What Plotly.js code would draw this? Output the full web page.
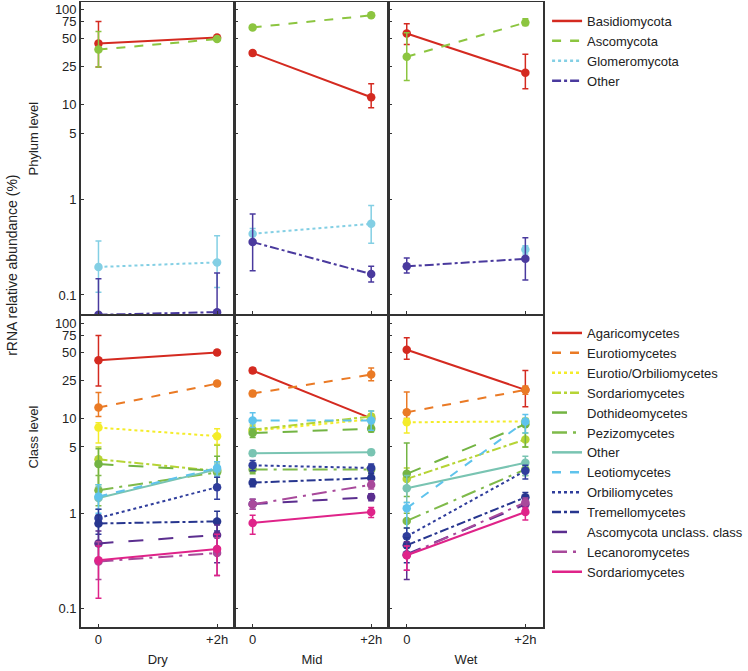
<!DOCTYPE html>
<html>
<head>
<meta charset="utf-8">
<script src="https://cdn.plot.ly/plotly-3.0.1.min.js"></script>
<style>
  html, body { margin: 0; padding: 0; background: #fff; }
  #chart { width: 748px; height: 671px; }
</style>
</head>
<body>
<div id="chart"></div>
<script>
// values per row: [Dry 0, Dry +2h, Mid 0, Mid +2h, Wet 0, Wet +2h]
const sites = ["Dry", "Mid", "Wet"];
const times = ["0", "+2h"];

const phyla = ["Basidiomycota", "Ascomycota", "Glomeromycota", "Other"];
const phylumMean = [
  [44, 51, 35, 12, 56, 21.7],
  [38, 49, 65, 87, 32, 73],
  [0.197, 0.22, 0.44, 0.56, null, 0.30],
  [0.062, 0.066, 0.36, 0.166, 0.2, 0.24],
];
const phylumHi = [
  [75, 53, 37, 16.6, 71, 34],
  [59, 51, 68, 92, 57, 80],
  [0.37, 0.42, 0.5, 0.87, null, 0.33],
  [0.148, 0.17, 0.71, 0.2, 0.245, 0.4],
];
const phylumLo = [
  [25, 49, 33, 9.3, 43, 14.7],
  [25, 47, 62, 83, 18, 68],
  [0.107, 0.12, 0.38, 0.35, null, 0.27],
  [0.03, 0.03, 0.18, 0.137, 0.17, 0.144],
];

const classes = [
  "Agaricomycetes", "Eurotiomycetes", "Eurotio/Orbiliomycetes", "Sordariomycetes",
  "Dothideomycetes", "Pezizomycetes", "Other", "Leotiomycetes", "Orbiliomycetes",
  "Tremellomycetes", "Ascomycota unclass. class", "Lecanoromycetes", "Sordariomycetes",
];
const classMean = [
  [41, 49.5, 32, 10, 53, 20],
  [13, 23.3, 18.3, 29, 11.6, 20],
  [8.0, 6.5, 7.4, 9.8, 9.1, 9.3],
  [3.7, 2.8, 7.6, 10.5, 2.3, 6.0],
  [3.3, 2.8, 7.0, 7.8, 2.6, 8.7],
  [1.75, 2.7, 2.9, 2.9, 0.83, 2.9],
  [1.45, 2.9, 4.3, 4.4, 1.83, 3.4],
  [1.5, 3.0, 9.5, 9.5, 1.13, 9.3],
  [0.89, 1.88, 3.2, 3.0, 0.57, 2.8],
  [0.78, 0.82, 2.1, 2.35, 0.46, 1.47],
  [0.48, 0.59, 1.25, 1.48, 0.37, 1.24],
  [0.31, 0.38, 1.24, 2.0, 0.36, 1.3],
  [0.32, 0.42, 0.79, 1.03, 0.36, 1.03],
];
const classHi = [
  [75, 52, 34, 11, 71, 32],
  [18.8, 24.5, 19.5, 34, 19, 22],
  [9, 7.8, 8, 10.5, 10, 10],
  [5, 5.2, 8.5, 12, 3, 7],
  [4.8, 4, 7.8, 8.5, 5.5, 10],
  [2.5, 3.5, 3.2, 3.2, 1, 3.3],
  [1.9, 3.3, 4.6, 4.7, 2.5, 4],
  [2, 3.5, 11.5, 12, 1.3, 11],
  [1.1, 2.4, 3.6, 3.3, 0.7, 3.2],
  [0.95, 1.05, 2.3, 2.6, 0.55, 1.65],
  [0.65, 0.75, 1.4, 1.6, 0.5, 1.4],
  [0.5, 0.55, 1.4, 2.2, 0.45, 1.45],
  [0.45, 0.6, 0.95, 1.15, 0.45, 1.15],
];
const classLo = [
  [22, 47, 30, 9, 42, 13.3],
  [10.5, 22, 17, 25, 10, 18],
  [5.5, 5.3, 6.8, 9, 7, 8.5],
  [2, 1.8, 6.8, 9, 1.8, 5],
  [1.5, 2, 6.3, 7.2, 1.5, 5],
  [1.2, 2, 2.6, 2.6, 0.7, 2.5],
  [1.1, 2.5, 4, 4.1, 1.3, 2.5],
  [1, 2.4, 8, 7.5, 0.35, 7],
  [0.6, 1.4, 2.8, 2.7, 0.45, 2.3],
  [0.5, 0.65, 1.9, 2.1, 0.3, 1.3],
  [0.3, 0.3, 1.1, 1.35, 0.2, 1.1],
  [0.2, 0.22, 1.1, 1.8, 0.25, 1.1],
  [0.127, 0.22, 0.6, 0.9, 0.25, 0.85],
];

// styles
const phylumColors = ["#d42a20", "#8cc540", "#83cfe4", "#4a3a9e"];
const phylumDash = ["solid", "dash", "dot", "dashdot"];
const classColors = [
  "#d42a20", "#ea7a25", "#f4ec2a", "#b6d435", "#73b443", "#7fba4a", "#79c4b2",
  "#5fc3ec", "#2f3d9c", "#27368f", "#5b2e8f", "#a8499b", "#df2389",
];
const classDash = [
  "solid", "dash", "dot", "dashdot", "longdash", "longdashdot", "solid",
  "dash", "dot", "dashdot", "longdash", "longdashdot", "solid",
];

const W = 748, H = 671;
const colEdges = [82, 238.7, 395.3, 552];
const rowEdges = [[2, 314], [316, 627]];
const yRange = [-1.2, 2.08];
const tickVals = [0.1, 1, 5, 10, 25, 50, 75, 100];

function buildTraces(names, mean, hi, lo, colors, dashes, row, legendId) {
  const traces = [];
  names.forEach((name, i) => {
    sites.forEach((site, s) => {
      const axisNum = row * 3 + s + 1;
      const sfx = axisNum === 1 ? "" : axisNum;
      const y = [mean[i][s * 2], mean[i][s * 2 + 1]];
      const yh = [hi[i][s * 2], hi[i][s * 2 + 1]];
      const yl = [lo[i][s * 2], lo[i][s * 2 + 1]];
      traces.push({
        type: "scatter",
        mode: "lines+markers",
        x: [0, 1],
        y: y,
        name: name,
        xaxis: "x" + sfx,
        yaxis: "y" + sfx,
        showlegend: false,
        line: { color: colors[i], width: 2, dash: dashes[i] },
        marker: { color: colors[i], size: 8.5 },
        error_y: {
          type: "data",
          symmetric: false,
          array: y.map((v, k) => (v == null || yh[k] == null) ? 0 : yh[k] - v),
          arrayminus: y.map((v, k) => (v == null || yl[k] == null) ? 0 : v - yl[k]),
          color: colors[i],
          thickness: 1.5,
          width: 3,
        },
        hovertemplate: `<b>${name}</b><br>${site}, %{x}<br>%{y}%<extra></extra>`,
      });
    });
    // legend entry: line sample only, no markers
    const sfx0 = row === 0 ? "" : 4;
    traces.push({
      type: "scatter",
      mode: "lines",
      x: [null],
      y: [null],
      name: name,
      xaxis: "x" + sfx0,
      yaxis: "y" + sfx0,
      legend: legendId,
      showlegend: true,
      line: { color: colors[i], width: 2.5, dash: dashes[i] },
      hoverinfo: "skip",
    });
  });
  return traces;
}

const data = [
  ...buildTraces(phyla, phylumMean, phylumHi, phylumLo, phylumColors, phylumDash, 0, "legend"),
  ...buildTraces(classes, classMean, classHi, classLo, classColors, classDash, 1, "legend2"),
];

const font = { family: "Liberation Sans, Arial, sans-serif", color: "#222", size: 13 };
const layout = {
  width: W,
  height: H,
  margin: { l: 0, r: 0, t: 0, b: 0 },
  paper_bgcolor: "#fff",
  plot_bgcolor: "#fff",
  font: font,
  showlegend: true,
  legend: {
    x: 556 / W, y: 1 - 6 / H, xanchor: "left", yanchor: "top",
    font: { ...font, size: 13 }, bgcolor: "rgba(0,0,0,0)", tracegroupgap: 0,
  },
  legend2: {
    x: 556 / W, y: 1 - 318 / H, xanchor: "left", yanchor: "top",
    font: { ...font, size: 13 }, bgcolor: "rgba(0,0,0,0)", tracegroupgap: 0,
  },
  annotations: [
    { text: "rRNA relative abundance (%)", x: 12 / W, y: 1 - 265 / H, xref: "paper", yref: "paper",
      xanchor: "center", yanchor: "middle",
      textangle: -90, showarrow: false, font: { ...font, size: 14 } },
    { text: "Phylum level", x: 34 / W, y: 1 - 138 / H, xref: "paper", yref: "paper",
      xanchor: "center", yanchor: "middle",
      textangle: -90, showarrow: false, font: { ...font, size: 13 } },
    { text: "Class level", x: 34 / W, y: 1 - 437 / H, xref: "paper", yref: "paper",
      xanchor: "center", yanchor: "middle",
      textangle: -90, showarrow: false, font: { ...font, size: 13 } },
  ],
};

for (let row = 0; row < 2; row++) {
  for (let s = 0; s < 3; s++) {
    const n = row * 3 + s + 1;
    const sfx = n === 1 ? "" : n;
    layout["xaxis" + sfx] = {
      domain: [colEdges[s] / W, colEdges[s + 1] / W],
      anchor: "y" + sfx,
      range: [-0.15, 1.15],
      tickvals: [0, 1],
      ticktext: times,
      showticklabels: row === 1,
      ticks: "inside", ticklen: 3, tickcolor: "#333",
      showgrid: false, zeroline: false,
      showline: true, mirror: true, linecolor: "#333", linewidth: 1.5,
      tickfont: { ...font, size: 13 },
      title: row === 1 ? { text: sites[s], font: { ...font, size: 13 }, standoff: 9 } : undefined,
      fixedrange: true,
    };
    layout["yaxis" + sfx] = {
      domain: [1 - rowEdges[row][1] / H, 1 - rowEdges[row][0] / H],
      anchor: "x" + sfx,
      type: "log",
      range: yRange,
      tickvals: tickVals,
      ticktext: tickVals.map(String),
      showticklabels: s === 0,
      ticks: "inside", ticklen: 3, tickcolor: "#333",
      showgrid: false, zeroline: false,
      showline: true, mirror: true, linecolor: "#333", linewidth: 1.5,
      tickfont: { ...font, size: 13 },
      fixedrange: true,
    };
  }
}

Plotly.newPlot("chart", data, layout, { displayModeBar: false, staticPlot: true });
</script>
</body>
</html>
